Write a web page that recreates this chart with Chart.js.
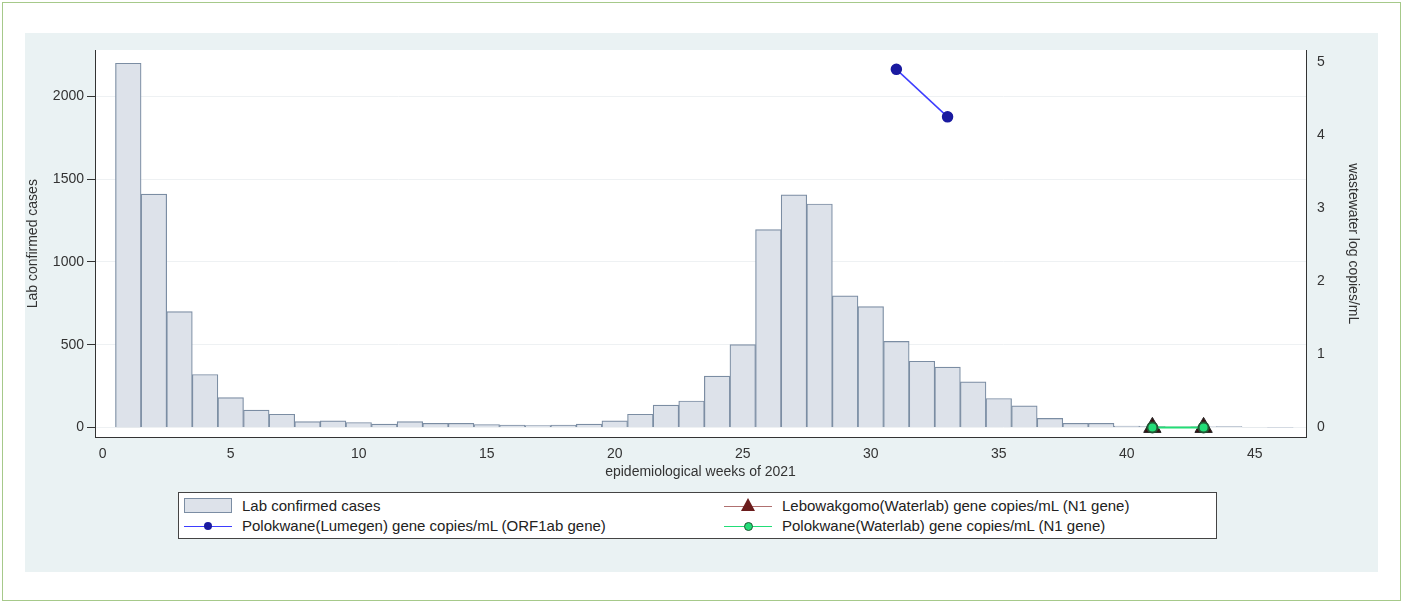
<!DOCTYPE html>
<html>
<head>
<meta charset="utf-8">
<script src="https://cdn.jsdelivr.net/npm/chart.js@4"></script>
<style>
  body { margin: 0; background: #fff; font-family: Arial, "Liberation Sans", sans-serif; }
  #frame { position: absolute; left: 2px; top: 2px; width: 1397px; height: 597px; border: 1px solid #a6c98a; }
  #panel { position: absolute; left: 25px; top: 33px; width: 1353px; height: 539px; background: #eaf2f3; }
  #wrap { position: absolute; left: 0; top: 0; width: 1353px; height: 456px; }
  #legend { position: absolute; left: 153px; top: 459px; width: 1039px; height: 47px; border: 1px solid #444; background: #fff;
            display: grid; grid-template-columns: 540px 1fr; grid-template-rows: 18px 18px; align-content: center; row-gap: 2px; font-size: 15px; color: #222; box-sizing: border-box; }
  .it { display: flex; align-items: center; height: 18px; }
  .sw { width: 48px; height: 16px; margin: 0 10px 0 5px; position: relative; }
</style>
</head>
<body>
<div id="frame"></div>
<div id="panel">
  <div id="wrap"><canvas id="chart"></canvas></div>
  <div id="legend">
    <div class="it"><span class="sw" style="background:#dde2ea;border:1px solid #7b8da3;height:13px;width:46px"></span>Lab confirmed cases</div>
    <div class="it"><span class="sw"><span style="position:absolute;top:8px;left:0;width:48px;height:1px;background:#b07070"></span><span style="position:absolute;left:17px;top:0;width:0;height:0;border-left:7px solid transparent;border-right:7px solid transparent;border-bottom:13px solid #6b1c1c"></span></span>Lebowakgomo(Waterlab) gene copies/mL (N1 gene)</div>
    <div class="it"><span class="sw"><span style="position:absolute;top:8px;left:0;width:48px;height:1px;background:#3d3dff"></span><span style="position:absolute;left:20px;top:4px;width:8px;height:8px;border-radius:50%;background:#1a1aa0"></span></span>Polokwane(Lumegen) gene copies/mL (ORF1ab gene)</div>
    <div class="it"><span class="sw"><span style="position:absolute;top:8px;left:0;width:48px;height:1px;background:#22dd77"></span><span style="position:absolute;left:20px;top:4px;width:7px;height:7px;border-radius:50%;background:#22dd77;border:1px solid #225533"></span></span>Polokwane(Waterlab) gene copies/mL (N1 gene)</div>
  </div>
</div>
<script>
const weeks = [1,2,3,4,5,6,7,8,9,10,11,12,13,14,15,16,17,18,19,20,21,22,23,24,25,26,27,28,29,30,31,32,33,34,35,36,37,38,39,40,41,42,43,44,45,46];
const cases = [2200,1410,700,320,180,105,80,35,40,30,20,35,25,25,18,15,12,15,20,40,80,135,160,310,500,1195,1405,1350,795,730,520,400,365,275,175,130,55,25,25,8,5,3,4,5,3,2];
const lumegenWeeks = [31,33];
const lumegenValues = [4.9,4.25];
const lebowakgomoWeeks = [41,43];
const lebowakgomoValues = [0,0];
const polokwaneWLWeeks = [41,43];
const polokwaneWLValues = [0,0];
const xTicks = [0,1,2,3,4,5,6,7,8,9,10,11,12,13,14,15,16,17,18,19,20,21,22,23,24,25,26,27,28,29,30,31,32,33,34,35,36,37,38,39,40,41,42,43,44,45,46,47];
const yTicks = [0,500,1000,1500,2000];
const y2Ticks = [0,1,2,3,4,5];

const pts = (xs, ys) => xs.map((x, i) => ({ x: x, y: ys[i] }));

const bgPlugin = {
  id: "plotBg",
  beforeDraw(c) {
    const a = c.chartArea, ctx = c.ctx;
    ctx.save();
    ctx.fillStyle = "#fff";
    ctx.fillRect(a.left, a.top, a.right - a.left, a.bottom - a.top);
    ctx.restore();
  }
};

new Chart(document.querySelector("#chart").getContext("2d"), {
  data: {
    datasets: [
      { type: "line", label: "Polokwane(Waterlab)", data: pts(polokwaneWLWeeks, polokwaneWLValues), yAxisID: "y2",
        borderColor: "#22dd77", borderWidth: 2, pointRadius: 5, pointBackgroundColor: "#22dd77", pointBorderColor: "#225533", order: 0 },
      { type: "line", label: "Lebowakgomo(Waterlab)", data: pts(lebowakgomoWeeks, lebowakgomoValues), yAxisID: "y2",
        borderColor: "#8b3a3a", borderWidth: 1, pointStyle: "triangle", pointRadius: 10, pointBackgroundColor: "#3a1010", pointBorderColor: "#222", order: 1 },
      { type: "line", label: "Polokwane(Lumegen)", data: pts(lumegenWeeks, lumegenValues), yAxisID: "y2",
        borderColor: "#3d3dff", borderWidth: 1.5, pointRadius: 5, pointBackgroundColor: "#1a1aa0", pointBorderColor: "#1a1aa0", order: 2 },
      { type: "bar", label: "Lab confirmed cases", data: pts(weeks, cases), yAxisID: "y",
        backgroundColor: "#dde2ea", borderColor: "#7b8da3", borderWidth: 1.2, barPercentage: 1, categoryPercentage: 1, order: 3 }
    ]
  },
  options: {
    responsive: true, maintainAspectRatio: false, animation: false,
    layout: { padding: { top: 17, left: 0, right: 17, bottom: 8 } },
    plugins: { legend: { display: false }, tooltip: { enabled: false } },
    scales: {
      x: { type: "linear", min: -0.3, max: 47, offset: false,
        afterBuildTicks: s => { s.ticks = xTicks.map(v => ({ value: v })); },
        grid: { display: false, drawTicks: true, tickLength: 6, tickColor: "#333" }, border: { color: "#333" },
        ticks: { color: "#333", font: { size: 14 }, autoSkip: false, maxRotation: 0, padding: 2, callback: v => (v % 5 === 0 ? String(v) : "") },
        title: { display: true, text: "epidemiological weeks of 2021", color: "#333", font: { size: 14 }, padding: 0 } },
      y: { position: "left", min: -60, max: 2280,
        afterBuildTicks: s => { s.ticks = yTicks.map(v => ({ value: v })); },
        afterFit: s => { s.width = 70; },
        grid: { color: "#eef1f3", drawTicks: true, tickColor: "#333" }, border: { color: "#333" },
        ticks: { color: "#333", font: { size: 14 }, callback: v => String(v) },
        title: { display: true, text: "Lab confirmed cases", color: "#333", font: { size: 14 }, padding: 0 } },
      y2: { position: "right", min: -0.137, max: 5.165,
        afterBuildTicks: s => { s.ticks = y2Ticks.map(v => ({ value: v })); },
        afterFit: s => { s.width = 55; },
        grid: { display: false, tickColor: "#333" }, border: { color: "#333" },
        ticks: { color: "#333", font: { size: 14 } },
        title: { display: true, text: "wastewater log copies/mL", color: "#333", font: { size: 14 }, padding: 0 } }
    }
  },
  plugins: [bgPlugin]
});
</script>
</body>
</html>
